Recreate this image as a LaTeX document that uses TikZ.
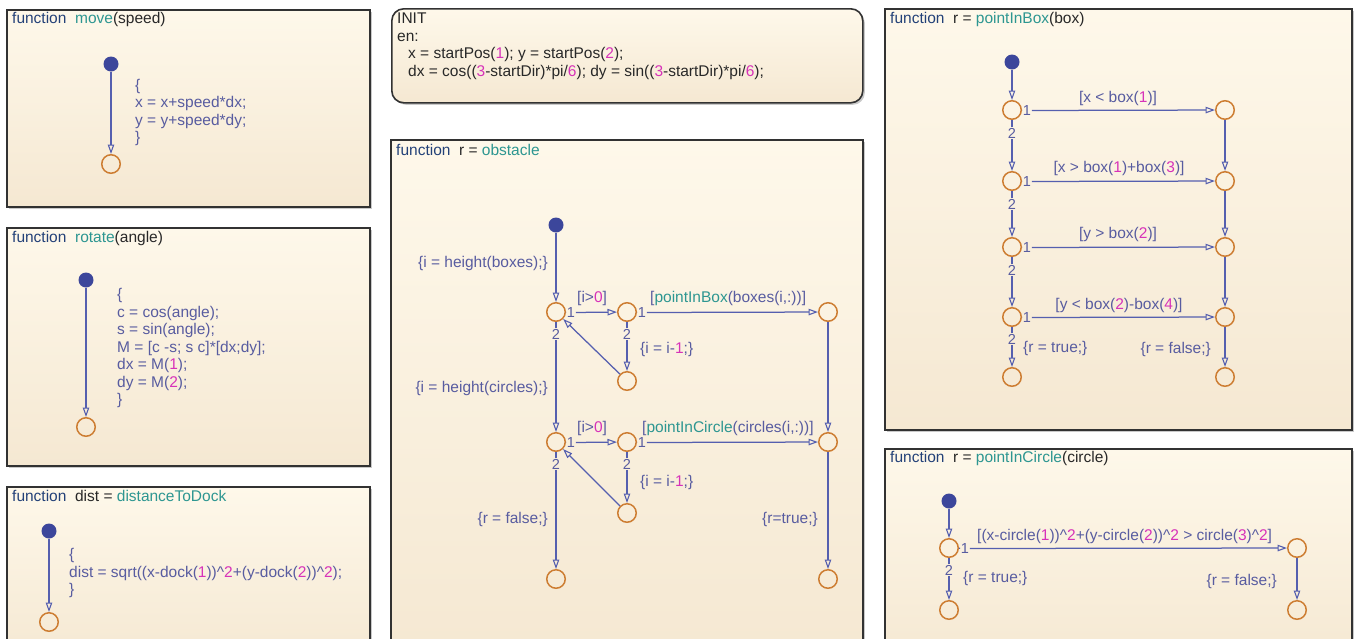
\documentclass[tikz,border=0pt]{standalone}
\usepackage{fontspec}
\setmainfont{Liberation Sans}
\usetikzlibrary{arrows.meta,shadows}
\definecolor{fnnavy}{RGB}{35,65,120}
\definecolor{fnteal}{RGB}{45,150,145}
\definecolor{argc}{RGB}{40,40,40}
\definecolor{lbl}{RGB}{88,92,160}
\definecolor{wire}{RGB}{85,95,175}
\definecolor{mag}{RGB}{215,50,185}
\definecolor{junc}{RGB}{205,125,50}
\definecolor{dotc}{RGB}{60,70,155}
\definecolor{bgtop}{RGB}{254,248,234}
\definecolor{bgbot}{RGB}{245,232,210}
\definecolor{frame}{RGB}{50,50,50}
\newcommand{\mgn}[1]{\textcolor{mag}{#1}}
\newcommand{\fnm}[1]{\textcolor{fnteal}{#1}}
\newcommand{\kw}{\textcolor{fnnavy}{function}\ \ }
\newcommand{\codefont}{\fontsize{15.5}{17.5}\selectfont}
\newcommand{\numfont}{\fontsize{14.5}{16}\selectfont}
\begin{document}
\begin{tikzpicture}[x=1pt,y=-1pt,
  fnbox/.style={draw=frame, line width=1.6pt, top color=bgtop, bottom color=bgbot,
    anchor=north west, inner sep=0pt,
    drop shadow={shadow xshift=2pt, shadow yshift=-2pt, opacity=0.35, fill=black!60}},
  title/.style={text=argc, font=\codefont, inner sep=0pt, anchor=base west},
  code/.style={text=lbl, font=\codefont, inner sep=0pt, anchor=base west},
  initcode/.style={text=argc, font=\codefont, inner sep=0pt, anchor=base west},
  tlab/.style={text=lbl, font=\codefont, inner sep=0pt},
  num/.style={text=lbl, font=\numfont, inner sep=0.6pt},
  junction/.style={circle, draw=junc, line width=1.5pt, minimum size=18.5pt, inner sep=0pt},
  startdot/.style={circle, fill=dotc, minimum size=15pt, inner sep=0pt},
  wire/.style={draw=wire, line width=1.25pt},
  trans/.style={draw=wire, line width=1.25pt, -{Triangle[open, length=9.5pt, width=6.5pt, line width=1.1pt]}}
]
\useasboundingbox (0,0) rectangle (1354,638);
\begin{scope}
\clip (0,0) rectangle (1354,638);
\fill[white] (0,0) rectangle (1354,638);

% ---------------- move ----------------
\node[fnbox, minimum width=363pt, minimum height=197pt] (boxmove) at (6,9) {};
\node[title] (tmove) at (12,23) {\kw\fnm{move}(speed)};
\node[startdot] (dmove) at (111,64) {};
\node[junction] (jmove) at (111,164) {};
\draw[trans] (dmove) -- (jmove);
\node[code] (cm1) at (135,90) {\{};
\node[code] (cm2) at (135,107.5) {x = x+speed*dx;};
\node[code] (cm3) at (135,125) {y = y+speed*dy;};
\node[code] (cm4) at (135,142.5) {\}};

% ---------------- rotate ----------------
\node[fnbox, minimum width=363pt, minimum height=238pt] (boxrot) at (6,227) {};
\node[title] (trot) at (12,242) {\kw\fnm{rotate}(angle)};
\node[startdot] (drot) at (86,280) {};
\node[junction] (jrot) at (86,427) {};
\draw[trans] (drot) -- (jrot);
\node[code] (cr1) at (117,299.5) {\{};
\node[code] (cr2) at (117,317) {c = cos(angle);};
\node[code] (cr3) at (117,334.5) {s = sin(angle);};
\node[code] (cr4) at (117,352) {M = [c -s; s c]*[dx;dy];};
\node[code] (cr5) at (117,369.5) {dx = M(\mgn{1});};
\node[code] (cr6) at (117,387) {dy = M(\mgn{2});};
\node[code] (cr7) at (117,404.5) {\}};

% ---------------- distanceToDock ----------------
\node[fnbox, minimum width=363pt, minimum height=175pt] (boxdist) at (6,486) {};
\node[title] (tdist) at (12,501) {\kw dist = \fnm{distanceToDock}};
\node[startdot] (ddist) at (49,531) {};
\node[junction] (jdist) at (49,622) {};
\draw[trans] (ddist) -- (jdist);
\node[code] (cd1) at (69,559.5) {\{};
\node[code] (cd2) at (69,577) {dist = sqrt((x-dock(\mgn{1}))\textasciicircum\mgn{2}+(y-dock(\mgn{2}))\textasciicircum\mgn{2});};
\node[code] (cd3) at (69,594.5) {\}};

% ---------------- INIT ----------------
\node[fnbox, rounded corners=12pt, minimum width=471pt, minimum height=94pt] (boxinit) at (391,8) {};
\node[initcode] (ci1) at (397,23.5) {INIT};
\node[initcode] (ci2) at (397,41) {en:};
\node[initcode] (ci3) at (408,58.5) {x = startPos(\mgn{1}); y = startPos(\mgn{2});};
\node[initcode] (ci4) at (408,76) {dx = cos((\mgn{3}-startDir)*pi/\mgn{6}); dy = sin((\mgn{3}-startDir)*pi/\mgn{6});};

% ---------------- obstacle ----------------
\node[fnbox, minimum width=472pt, minimum height=520pt] (boxobs) at (390,139) {};
\node[title] (tobs) at (396,155) {\kw r = \fnm{obstacle}};
\node[startdot] (dobs) at (556,225) {};
\node[junction] (A1) at (556,312) {};
\node[junction] (A2) at (627,312) {};
\node[junction] (A3) at (828,312) {};
\node[junction] (A4) at (627,381) {};
\node[junction] (B1) at (556,442) {};
\node[junction] (B2) at (627,442) {};
\node[junction] (B3) at (828,442) {};
\node[junction] (B4) at (627,513) {};
\node[junction] (B5) at (556,579) {};
\node[junction] (B6) at (828,579) {};
\draw[trans] (dobs) -- (A1);
\node[tlab, anchor=base east] (lobs1) at (548,267.5) {\{i = height(boxes);\}};
% A row
\node[num] (A1n1) at (571,312.5) {1};
\draw[wire] (A1) -- (A1n1);
\draw[trans] (A1n1) -- (A2);
\node[tlab, anchor=base west] (lA1) at (577,302.5) {[i>\mgn{0}]};
\node[num] (A2n1) at (642,312.5) {1};
\draw[wire] (A2) -- (A2n1);
\draw[trans] (A2n1) -- (A3);
\node[tlab, anchor=base west] (lA2) at (650,302.5) {[\fnm{pointInBox}(boxes(i,:))]};
\node[num] (A2n2) at (627,334) {2};
\draw[wire] (A2) -- (A2n2);
\draw[trans] (A2n2) -- (A4);
\node[tlab, anchor=base west] (lA3) at (640,353) {\{i = i-\mgn{1};\}};
\draw[trans] (A4) -- (A1);
\node[num] (A1n2) at (556,334) {2};
\draw[wire] (A1) -- (A1n2);
\draw[trans] (A1n2) -- (B1);
\node[tlab, anchor=base east] (lobs2) at (548,392) {\{i = height(circles);\}};
\draw[trans] (A3) -- (B3);
% B row
\node[num] (B1n1) at (571,442.5) {1};
\draw[wire] (B1) -- (B1n1);
\draw[trans] (B1n1) -- (B2);
\node[tlab, anchor=base west] (lB1) at (577,432.5) {[i>\mgn{0}]};
\node[num] (B2n1) at (642,442.5) {1};
\draw[wire] (B2) -- (B2n1);
\draw[trans] (B2n1) -- (B3);
\node[tlab, anchor=base west] (lB2) at (642,432.5) {[\fnm{pointInCircle}(circles(i,:))]};
\node[num] (B2n2) at (627,464) {2};
\draw[wire] (B2) -- (B2n2);
\draw[trans] (B2n2) -- (B4);
\node[tlab, anchor=base west] (lB3) at (640,486.5) {\{i = i-\mgn{1};\}};
\draw[trans] (B4) -- (B1);
\node[num] (B1n2) at (556,464) {2};
\draw[wire] (B1) -- (B1n2);
\draw[trans] (B1n2) -- (B5);
\node[tlab, anchor=base east] (lB4) at (548,523) {\{r = false;\}};
\draw[trans] (B3) -- (B6);
\node[tlab, anchor=base east] (lB5) at (818,523) {\{r=true;\}};

% ---------------- pointInBox ----------------
\node[fnbox, minimum width=467pt, minimum height=421pt] (boxpib) at (884,8) {};
\node[title] (tpib) at (890,23) {\kw r = \fnm{pointInBox}(box)};
\node[startdot] (dpib) at (1012,62) {};
\node[junction] (L1) at (1012,110) {};
\node[junction] (L2) at (1012,181) {};
\node[junction] (L3) at (1012,247) {};
\node[junction] (L4) at (1012,317) {};
\node[junction] (L5) at (1012,377) {};
\node[junction] (R1) at (1225,110) {};
\node[junction] (R2) at (1225,181) {};
\node[junction] (R3) at (1225,247) {};
\node[junction] (R4) at (1225,317) {};
\node[junction] (R5) at (1225,377) {};
\draw[trans] (dpib) -- (L1);
\node[num] (L1n1) at (1027,110.5) {1};
\node[num] (L2n1) at (1027,181.5) {1};
\node[num] (L3n1) at (1027,247.5) {1};
\node[num] (L4n1) at (1027,317.5) {1};
\draw[wire] (L1) -- (L1n1); \draw[trans] (L1n1) -- (R1);
\draw[wire] (L2) -- (L2n1); \draw[trans] (L2n1) -- (R2);
\draw[wire] (L3) -- (L3n1); \draw[trans] (L3n1) -- (R3);
\draw[wire] (L4) -- (L4n1); \draw[trans] (L4n1) -- (R4);
\node[tlab, anchor=base] (lp1) at (1118,102.5) {[x < box(\mgn{1})]};
\node[tlab, anchor=base] (lp2) at (1119,172.5) {[x > box(\mgn{1})+box(\mgn{3})]};
\node[tlab, anchor=base] (lp3) at (1118,238.5) {[y > box(\mgn{2})]};
\node[tlab, anchor=base] (lp4) at (1119,309) {[y < box(\mgn{2})-box(\mgn{4})]};
\node[num] (L1n2) at (1012,133) {2};
\node[num] (L2n2) at (1012,204) {2};
\node[num] (L3n2) at (1012,270) {2};
\node[num] (L4n2) at (1012,339) {2};
\draw[wire] (L1) -- (L1n2); \draw[trans] (L1n2) -- (L2);
\draw[wire] (L2) -- (L2n2); \draw[trans] (L2n2) -- (L3);
\draw[wire] (L3) -- (L3n2); \draw[trans] (L3n2) -- (L4);
\draw[wire] (L4) -- (L4n2); \draw[trans] (L4n2) -- (L5);
\draw[trans] (R1) -- (R2);
\draw[trans] (R2) -- (R3);
\draw[trans] (R3) -- (R4);
\draw[trans] (R4) -- (R5);
\node[tlab, anchor=base west] (lp5) at (1023,352.5) {\{r = true;\}};
\node[tlab, anchor=base east] (lp6) at (1211,353.5) {\{r = false;\}};

% ---------------- pointInCircle ----------------
\node[fnbox, minimum width=467pt, minimum height=215pt] (boxpic) at (884,448) {};
\node[title] (tpic) at (890,462) {\kw r = \fnm{pointInCircle}(circle)};
\node[startdot] (dpic) at (949,501) {};
\node[junction] (C1) at (949,548) {};
\node[junction] (C2) at (1297,548) {};
\node[junction] (C3) at (949,610) {};
\node[junction] (C4) at (1297,610) {};
\draw[trans] (dpic) -- (C1);
\node[num] (C1n1) at (965,548.5) {1};
\draw[wire] (C1) -- (C1n1); \draw[trans] (C1n1) -- (C2);
\node[tlab, anchor=base west] (lc1) at (977,540) {[(x-circle(\mgn{1}))\textasciicircum\mgn{2}+(y-circle(\mgn{2}))\textasciicircum\mgn{2} > circle(\mgn{3})\textasciicircum\mgn{2}]};
\node[num] (C1n2) at (949,570) {2};
\draw[wire] (C1) -- (C1n2); \draw[trans] (C1n2) -- (C3);
\node[tlab, anchor=base west] (lc2) at (963,582.5) {\{r = true;\}};
\draw[trans] (C2) -- (C4);
\node[tlab, anchor=base east] (lc3) at (1277,585) {\{r = false;\}};
\end{scope}
\end{tikzpicture}
\end{document}
